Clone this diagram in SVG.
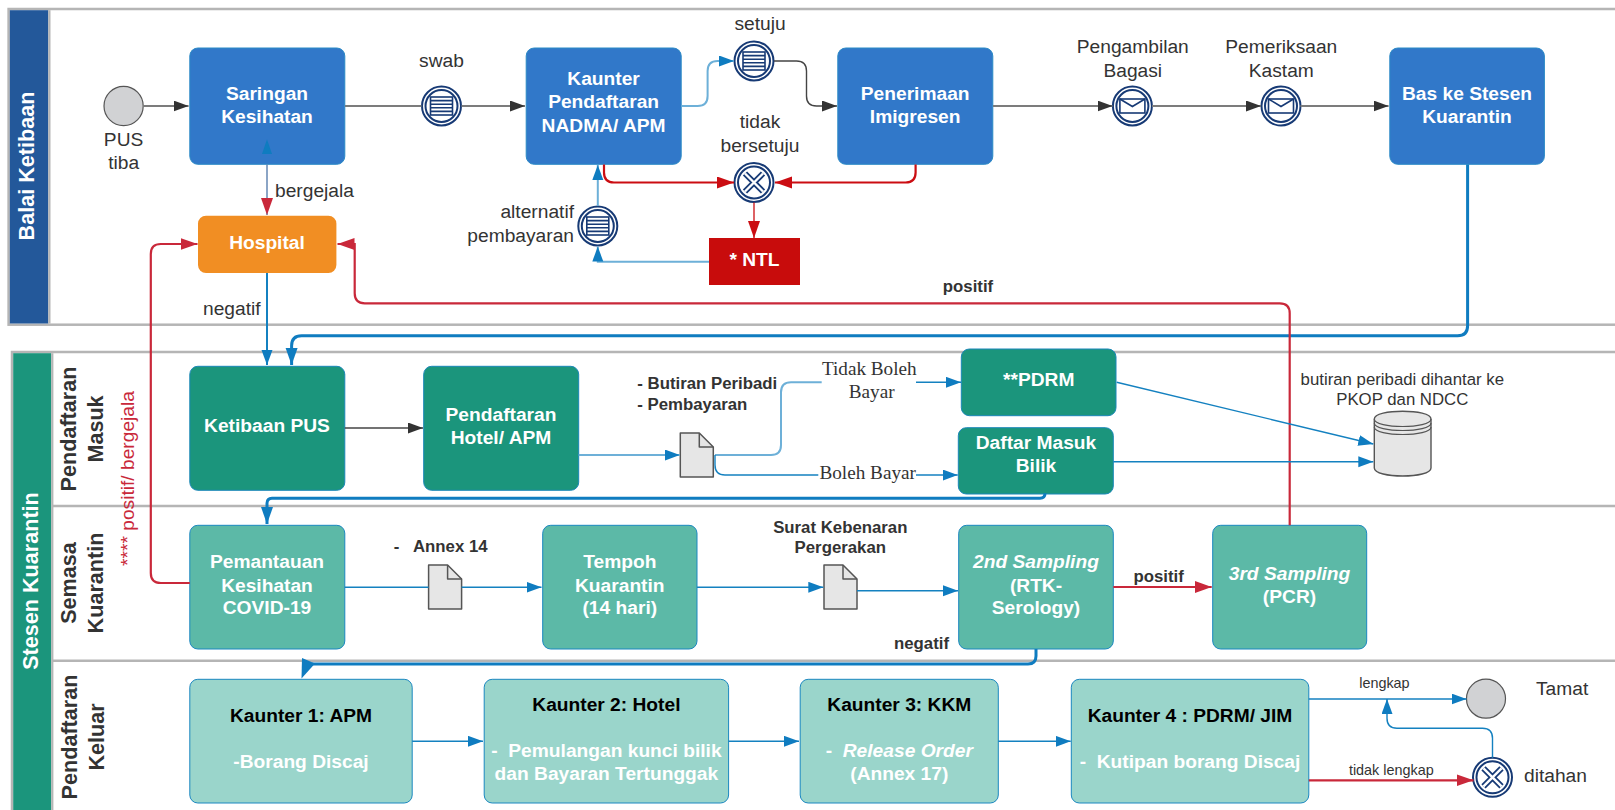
<svg xmlns="http://www.w3.org/2000/svg" width="1615" height="810" viewBox="0 0 1615 810">
<style>
text{font-family:"Liberation Sans",Arial,sans-serif;white-space:pre}
.b{font-size:19.2px;font-weight:700;fill:#fff;text-anchor:middle}
.k{font-size:19.2px;font-weight:700;fill:#000;text-anchor:middle}
.t{font-size:19.2px;fill:#333;text-anchor:middle}
.l{font-size:16.8px;font-weight:700;fill:#333;text-anchor:middle}
.s{font-size:14.4px;fill:#333;text-anchor:middle}
.f{font-family:"Liberation Serif","Times New Roman",serif;font-size:19.2px;fill:#333;text-anchor:middle}
.h{font-size:21.6px;font-weight:700;text-anchor:middle}
.lane{fill:none;stroke:#b5b5b5;stroke-width:2.5}
.sep{stroke:#b5b5b5;stroke-width:2.5}
.bl{fill:#3178c9;stroke:#2b8ac6;stroke-width:1}
.te{fill:#1b957c;stroke:#1a87b8;stroke-width:1}
.tm{fill:#5cb9a7;stroke:#1a87c0;stroke-width:1}
.tl{fill:#9ad5cb;stroke:#1a87c0;stroke-width:1}
.doc{fill:#e6e6e6;stroke:#555;stroke-width:1.5;stroke-linejoin:round}
.ev{fill:#fff;stroke:#173a75;stroke-width:2}
.ic{fill:none;stroke:#173a75;stroke-width:1.6}
.c{fill:none;stroke-linecap:butt}
.g{stroke:#7c7c7c;stroke-width:2.2}
.d{stroke:#444;stroke-width:1.4}
.u{stroke:#1481c0;stroke-width:1.4}
.um{stroke:#1481c0;stroke-width:2}
.ul{stroke:#6db0d8;stroke-width:2}
.uk{stroke:#0f7cc0;stroke-width:3}
.r{stroke:#c9283a;stroke-width:2.2}
.rd{stroke:#cb0d12;stroke-width:2.2}
.rt{stroke:#cb0d12;stroke-width:1.3}
</style>
<defs>
<marker id="mk" markerUnits="userSpaceOnUse" markerWidth="16" markerHeight="12" refX="15" refY="5.5" orient="auto"><path d="M0 0L15 5.5L0 11z" fill="#333"/></marker>
<marker id="mu" markerUnits="userSpaceOnUse" markerWidth="16" markerHeight="12" refX="15" refY="5.5" orient="auto"><path d="M0 0L15 5.5L0 11z" fill="#0f7cc0"/></marker>
<marker id="mv" markerUnits="userSpaceOnUse" markerWidth="18" markerHeight="13" refX="17" refY="6" orient="auto"><path d="M0 0L17 6L0 12z" fill="#0f7cc0"/></marker>
<marker id="mr" markerUnits="userSpaceOnUse" markerWidth="18" markerHeight="13" refX="17" refY="6" orient="auto"><path d="M0 0L17 6L0 12z" fill="#c9283a"/></marker>
<marker id="md" markerUnits="userSpaceOnUse" markerWidth="18" markerHeight="13" refX="17" refY="6" orient="auto"><path d="M0 0L17 6L0 12z" fill="#cb0d12"/></marker>
<g id="ring"><circle r="19.5" class="ev"/><circle r="16" class="ev"/></g>
<g id="ev-doc"><use href="#ring"/><rect x="-11" y="-9" width="22" height="18" class="ic"/><path d="M-11 -5.4H11M-11 -1.8H11M-11 1.8H11M-11 5.4H11" class="ic"/></g>
<g id="ev-mail"><use href="#ring"/><rect x="-12.5" y="-7" width="25" height="14" class="ic"/><path d="M-12.5 -7L0 0.5L12.5 -7" class="ic"/></g>
<g id="ev-x"><use href="#ring"/><path d="M-9 -9L9 9M9 -9L-9 9" fill="none" stroke="#173a75" stroke-width="6"/><path d="M-9 -9L9 9M9 -9L-9 9" fill="none" stroke="#fff" stroke-width="2.4"/></g>
<path id="docshape" d="M0 0H19L33 14V44H0Z"/>
</defs>

<g id="lanes">
<g id="lane-balai">
<rect x="8.6" y="9" width="1620" height="315.7" class="lane"/>
<rect x="9.8" y="10.2" width="38.5" height="313.3" fill="#23589a"/>
<rect x="48.3" y="10.2" width="2.2" height="313.3" fill="#b5b5b5"/>
<text class="h" fill="#fff" transform="rotate(-90 34 166)" x="34" y="166">Balai Ketibaan</text>
</g>
<g id="lane-stesen">
<rect x="12" y="352" width="1620" height="480" class="lane"/>
<rect x="13.2" y="353.2" width="38" height="460" fill="#1b957c"/>
<rect x="51.2" y="353.2" width="2.2" height="460" fill="#b5b5b5"/>
<text class="h" fill="#fff" transform="rotate(-90 38.3 581)" x="38.3" y="581">Stesen Kuarantin</text>
<path d="M53 506H1615M53 660.7H1615" class="sep"/>
<text class="h" fill="#333" transform="rotate(-90 75.5 429)" x="75.5" y="429">Pendaftaran</text>
<text class="h" fill="#333" transform="rotate(-90 102.5 429)" x="102.5" y="429">Masuk</text>
<text class="h" fill="#333" transform="rotate(-90 75.5 583)" x="75.5" y="583">Semasa</text>
<text class="h" fill="#333" transform="rotate(-90 102.5 583)" x="102.5" y="583">Kuarantin</text>
<text class="h" fill="#333" transform="rotate(-90 76.5 737)" x="76.5" y="737">Pendaftaran</text>
<text class="h" fill="#333" transform="rotate(-90 103.5 737)" x="103.5" y="737">Keluar</text>
</g>
</g>

<g id="nodes">
<g id="start"><circle cx="123.6" cy="106" r="19.6" fill="#d1d2d4" stroke="#555" stroke-width="1.2"/><text class="t"><tspan x="123.6" y="145.7">PUS</tspan><tspan x="123.6" y="169">tiba</tspan></text></g>
<g id="saringan"><rect x="189.8" y="48" width="155" height="116.3" rx="8" class="bl"/><text class="b"><tspan x="267" y="100">Saringan</tspan><tspan x="267" y="123">Kesihatan</tspan></text></g>
<g id="swab"><use href="#ev-doc" x="441.5" y="106"/><text class="t" x="441.5" y="66.7">swab</text></g>
<g id="kaunter"><rect x="526.2" y="48" width="155" height="116.3" rx="8" class="bl"/><text class="b"><tspan x="603.6" y="85.3">Kaunter</tspan><tspan x="603.6" y="108.3">Pendaftaran</tspan><tspan x="603.6" y="131.7">NADMA/ APM</tspan></text></g>
<g id="setuju"><use href="#ev-doc" x="754" y="61"/><text class="t" x="760" y="30">setuju</text></g>
<g id="tidak"><use href="#ev-x" x="754" y="182.5"/><text class="t"><tspan x="760" y="128.3">tidak</tspan><tspan x="760" y="151.7">bersetuju</tspan></text></g>
<g id="alternatif"><use href="#ev-doc" x="597.8" y="226"/><text class="t" style="text-anchor:end"><tspan x="574" y="218.3">alternatif</tspan><tspan x="574" y="241.7">pembayaran</tspan></text></g>
<g id="ntl"><rect x="709" y="238" width="91" height="47" fill="#c80c0c"/><text class="b" x="754.5" y="266">* NTL</text></g>
<g id="penerimaan"><rect x="837.8" y="48" width="155" height="116.3" rx="8" class="bl"/><text class="b"><tspan x="915.2" y="100">Penerimaan</tspan><tspan x="915.2" y="123">Imigresen</tspan></text></g>
<g id="bagasi"><use href="#ev-mail" x="1132.4" y="106"/><text class="t"><tspan x="1132.8" y="53.3">Pengambilan</tspan><tspan x="1132.8" y="76.7">Bagasi</tspan></text></g>
<g id="kastam"><use href="#ev-mail" x="1281" y="106"/><text class="t"><tspan x="1281.3" y="53.3">Pemeriksaan</tspan><tspan x="1281.3" y="76.7">Kastam</tspan></text></g>
<g id="bas"><rect x="1389.8" y="48" width="154.6" height="116.3" rx="8" class="bl"/><text class="b"><tspan x="1467" y="100">Bas ke Stesen</tspan><tspan x="1467" y="123">Kuarantin</tspan></text></g>
<g id="hospital"><rect x="198" y="215.7" width="138.4" height="57.3" rx="8" fill="#f18e23"/><text class="b" x="267" y="249.3">Hospital</text></g>
<g id="ketibaan"><rect x="189.8" y="366.3" width="155" height="124" rx="8" class="te"/><text class="b" x="267" y="432">Ketibaan PUS</text></g>
<g id="hotel"><rect x="423.7" y="366.3" width="155" height="124" rx="8" class="te"/><text class="b"><tspan x="501" y="421">Pendaftaran</tspan><tspan x="501" y="444">Hotel/ APM</tspan></text></g>
<g id="doc-butiran"><use href="#docshape" x="680.3" y="433" class="doc"/><path d="M699.3 433V447H713.3" class="doc" style="fill:none"/><text class="l" style="text-anchor:start"><tspan x="637.3" y="389.3">- Butiran Peribadi</tspan><tspan x="637.3" y="410">- Pembayaran</tspan></text></g>
<g id="pdrm"><rect x="961.3" y="349" width="154.7" height="66.7" rx="8" class="te"/><text class="b" x="1038.7" y="386">**PDRM</text></g>
<g id="daftar"><rect x="958.3" y="427.7" width="155" height="66.3" rx="8" class="te"/><text class="b"><tspan x="1036" y="448.7">Daftar Masuk</tspan><tspan x="1036" y="471.7">Bilik</tspan></text></g>
<g id="db"><path d="M1374.3 419C1374.3 408.6 1431 408.6 1431 419V468C1431 478.7 1374.3 478.7 1374.3 468Z" fill="#e6e6e6" stroke="#555" stroke-width="1.4"/><path d="M1374.3 419C1374.3 429 1431 429 1431 419M1374.3 423C1374.3 433 1431 433 1431 423M1374.3 427C1374.3 437 1431 437 1431 427" fill="none" stroke="#555" stroke-width="1.2"/><text style="font-size:16.8px;fill:#333;text-anchor:middle"><tspan x="1402.3" y="385">butiran peribadi dihantar ke</tspan><tspan x="1402.3" y="405">PKOP dan NDCC</tspan></text></g>
<g id="pemantauan"><rect x="189.8" y="525.3" width="155" height="123.7" rx="8" class="tm"/><text class="b"><tspan x="267" y="568.3">Pemantauan</tspan><tspan x="267" y="591.7">Kesihatan</tspan><tspan x="267" y="614.3">COVID-19</tspan></text></g>
<g id="doc-annex"><use href="#docshape" x="428.6" y="565" class="doc"/><path d="M447.6 565V579H461.6" class="doc" style="fill:none"/><text class="l" x="393.8" y="552.3" style="text-anchor:start">-</text><text class="l" x="413" y="552.3" style="text-anchor:start">Annex 14</text></g>
<g id="tempoh"><rect x="542.7" y="525.3" width="154.3" height="123.7" rx="8" class="tm"/><text class="b"><tspan x="619.8" y="568.3">Tempoh</tspan><tspan x="619.8" y="591.7">Kuarantin</tspan><tspan x="619.8" y="614.3">(14 hari)</tspan></text></g>
<g id="doc-surat"><use href="#docshape" x="824" y="565" class="doc"/><path d="M843 565V579H857" class="doc" style="fill:none"/><text class="l"><tspan x="840.3" y="532.7">Surat Kebenaran</tspan><tspan x="840.3" y="552.7">Pergerakan</tspan></text></g>
<g id="sampling2"><rect x="958.7" y="525.3" width="154.6" height="123.7" rx="8" class="tm"/><text class="b"><tspan x="1036" y="568.3" font-style="italic">2nd Sampling</tspan><tspan x="1036" y="591.7">(RTK-</tspan><tspan x="1036" y="614.3">Serology)</tspan></text></g>
<g id="sampling3"><rect x="1212.7" y="525.3" width="154" height="123.7" rx="8" class="tm"/><text class="b"><tspan x="1289.5" y="580" font-style="italic">3rd Sampling</tspan><tspan x="1289.5" y="603.3">(PCR)</tspan></text></g>
<g id="kaunter1"><rect x="189.8" y="679.3" width="222.4" height="123.7" rx="8" class="tl"/><text class="k" x="301" y="721.7">Kaunter 1: APM</text><text class="b" x="301" y="768.3">-Borang Discaj</text></g>
<g id="kaunter2"><rect x="484.2" y="679.3" width="244.4" height="123.7" rx="8" class="tl"/><text class="k" x="606.4" y="710.7">Kaunter 2: Hotel</text><text class="b"><tspan x="606.4" y="756.7">-  Pemulangan kunci bilik</tspan><tspan x="606.4" y="780">dan Bayaran Tertunggak</tspan></text></g>
<g id="kaunter3"><rect x="800.2" y="679.3" width="198.1" height="123.7" rx="8" class="tl"/><text class="k" x="899.3" y="710.7">Kaunter 3: KKM</text><text class="b"><tspan x="899.3" y="756.7">-  <tspan font-style="italic">Release Order</tspan></tspan><tspan x="899.3" y="780">(Annex 17)</tspan></text></g>
<g id="kaunter4"><rect x="1071.3" y="679.3" width="237.5" height="123.7" rx="8" class="tl"/><text class="k" x="1190" y="721.7">Kaunter 4 : PDRM/ JIM</text><text class="b" x="1190" y="768.3">-  Kutipan borang Discaj</text></g>
<g id="tamat"><circle cx="1486" cy="698.7" r="19.5" fill="#d1d2d4" stroke="#555" stroke-width="1.2"/><text class="t" x="1536" y="695" style="text-anchor:start">Tamat</text></g>
<g id="ditahan"><use href="#ev-x" x="1492.5" y="777.3"/><text class="t" x="1524" y="781.7" style="text-anchor:start">ditahan</text></g>
</g>

<g id="connectors">
<path d="M143.2 106H188.6" class="c g" marker-end="url(#mk)"/>
<path d="M345 106H421.5" class="c g"/>
<path d="M461.5 106H525" class="c g" marker-end="url(#mk)"/>
<path d="M681.5 106H697.6Q707.6 106 707.6 96V71Q707.6 61 717.6 61H734" class="c ul" marker-end="url(#mu)"/>
<path d="M774 61H796.5Q806.5 61 806.5 71V96Q806.5 106 816.5 106H837" class="c d" marker-end="url(#mk)"/>
<path d="M604 164.5V172.5Q604 182.5 614 182.5H734" class="c rd" marker-end="url(#md)"/>
<path d="M915.6 164.5V172.5Q915.6 182.5 905.6 182.5H775" class="c rd" marker-end="url(#md)"/>
<path d="M754 202.5V238" class="c rt" marker-end="url(#md)"/>
<path d="M709 261.7H597.8V246.5" class="c ul" marker-end="url(#mu)"/>
<path d="M597.8 206V165" class="c ul" marker-end="url(#mu)"/>
<path d="M993 106H1112.5" class="c g" marker-end="url(#mk)"/>
<path d="M1152 106H1261" class="c g" marker-end="url(#mk)"/>
<path d="M1300.5 106H1388.6" class="c g" marker-end="url(#mk)"/>
<path d="M267 164.5V215" class="c" stroke="#5a7fae" stroke-width="1.4" marker-end="url(#mr)"/>
<polygon points="267,139.3 262,154 272,154" fill="#0f7cc0"/>
<text class="t" x="275" y="196.7" style="text-anchor:start">bergejala</text>
<path d="M267 273V365" class="c um" marker-end="url(#mu)"/>
<text class="t" x="203" y="315" style="text-anchor:start">negatif</text>
<path d="M1467.6 164.5V325.7Q1467.6 335.7 1457.6 335.7H301.6Q291.6 335.7 291.6 345.7V365" class="c uk" marker-end="url(#mv)"/>
<path d="M1289.7 525.3V313.3Q1289.7 303.3 1279.7 303.3H364.7Q354.7 303.3 354.7 293.3V244H337.5" class="c r" marker-end="url(#mr)"/>
<text class="l" x="968" y="291.7">positif</text>
<path d="M189.8 583H160.8Q150.8 583 150.8 573V254Q150.8 244 160.8 244H197.5" class="c r" marker-end="url(#mr)"/>
<text transform="rotate(-90 134 478.5)" x="134" y="478.5" style="font-size:19.2px;fill:#c9283a;text-anchor:middle">**** positif/ bergejala</text>
<path d="M344.8 428H423" class="c d" marker-end="url(#mk)"/>
<path d="M578.7 455H679.8" class="c ul" marker-end="url(#mu)"/>
<path d="M715 455H771Q781 455 781 445V392.3Q781 382.3 791 382.3H821.7" class="c ul"/>
<path d="M916 382.3H961" class="c u" marker-end="url(#mu)"/>
<text class="f"><tspan x="869.3" y="375">Tidak Boleh</tspan><tspan x="871.7" y="398.3">Bayar</tspan></text>
<path d="M715 455V465Q715 475 725 475H818.3" class="c u"/>
<path d="M916 475H957.7" class="c u" marker-end="url(#mu)"/>
<text class="f" x="867.7" y="479">Boleh Bayar</text>
<path d="M1116.7 382.3L1373.3 444" class="c u" marker-end="url(#mu)"/>
<path d="M1113.3 461.7H1373.3" class="c u" marker-end="url(#mu)"/>
<path d="M1045 494V493.3Q1045 498.3 1040 498.3H272Q267 498.3 267 503.3V524" class="c uk" marker-end="url(#mv)"/>
<path d="M344.8 587.3H428.6M461.6 587.3H541.5" class="c u" marker-end="url(#mu)"/>
<path d="M697 587.3H823.3" class="c u" marker-end="url(#mu)"/>
<path d="M857 590.7H958" class="c u" marker-end="url(#mu)"/>
<path d="M1113.3 587H1211.7" class="c r" marker-end="url(#mr)"/>
<text class="l" x="1158.7" y="581.7">positif</text>
<path d="M1036 649V656Q1036 664 1028 664H312" class="c uk"/>
<polygon points="302,658 315,663.5 301.5,678.5" fill="#0f7cc0"/>
<text class="l" x="921.5" y="649" >negatif</text>
<path d="M412.2 741.3H483" class="c u" marker-end="url(#mu)"/>
<path d="M728.6 741.3H799" class="c u" marker-end="url(#mu)"/>
<path d="M998.3 741.3H1070.7" class="c u" marker-end="url(#mu)"/>
<path d="M1308.8 699H1466.5" class="c u" marker-end="url(#mu)"/>
<text class="s" x="1384.4" y="687.7">lengkap</text>
<path d="M1308.8 780.3H1473.5" class="c r" marker-end="url(#mr)"/>
<text class="s" x="1391.3" y="775">tidak lengkap</text>
<path d="M1492.5 757.8V738.3Q1492.5 728.3 1482.5 728.3H1397Q1387 728.3 1387 718.3V699" class="c u" marker-end="url(#mu)"/>
</g>
</svg>
